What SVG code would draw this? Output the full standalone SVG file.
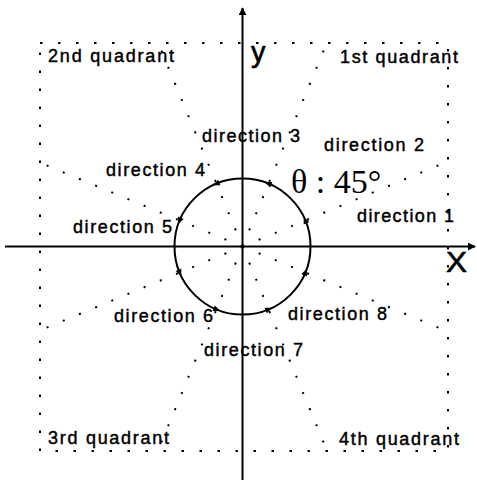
<svg xmlns="http://www.w3.org/2000/svg" width="477" height="480" viewBox="0 0 477 480">
<style>
.bg{fill:#fff}
.box{fill:none;stroke:#000;stroke-width:2;stroke-dasharray:2.5 15.5}
.ray{fill:none;stroke:#000;stroke-width:2;stroke-dasharray:2 15.5}
.axis{fill:none;stroke:#000;stroke-width:2}
.circ{fill:none;stroke:#000;stroke-width:2}
.lbl{font-family:"Liberation Sans",Arial,sans-serif;font-size:18px;fill:#000;stroke:#000;stroke-width:0.45}
.big{font-family:"Liberation Sans",Arial,sans-serif;font-size:29px;fill:#000;stroke:#000;stroke-width:0.6}
.theta{font-family:"Liberation Serif","Times New Roman",serif;font-size:34px;fill:#000}
</style>
<defs>
<path id="ah" d="M4,0 L-3,-3 L-3,3 Z" fill="#000"/>
<marker id="axhead" viewBox="0 0 10 10" refX="9" refY="5" markerWidth="4" markerHeight="4" orient="auto" markerUnits="strokeWidth">
<path d="M0,0 L10,5 L0,10 Z" fill="#000"/>
</marker>
</defs>
<rect class="bg" x="0" y="0" width="477" height="480"/>
<g id="quadrant-box">
<rect class="box" x="40" y="43" width="408" height="408"/>
</g>
<g id="connectors">
<line class="ray" x1="242.5" y1="246.5" x2="448" y2="161.4"/>
<line class="ray" x1="242.5" y1="246.5" x2="326.8" y2="43"/>
<line class="ray" x1="242.5" y1="246.5" x2="158.2" y2="43"/>
<line class="ray" x1="242.5" y1="246.5" x2="40" y2="162.6"/>
<line class="ray" x1="242.5" y1="246.5" x2="40" y2="330.4"/>
<line class="ray" x1="242.5" y1="246.5" x2="157.8" y2="451"/>
<line class="ray" x1="242.5" y1="246.5" x2="327.2" y2="451"/>
<line class="ray" x1="242.5" y1="246.5" x2="448" y2="331.6"/>
</g>
<g id="axes">
<line class="axis" x1="5" y1="246.5" x2="475" y2="246.5" marker-end="url(#axhead)"/>
<line class="axis" x1="242.5" y1="480" x2="242.5" y2="8" marker-end="url(#axhead)"/>
<text class="big" x="446" y="272" textLength="21" lengthAdjust="spacingAndGlyphs">X</text>
<text class="big" x="251" y="62">y</text>
</g>
<g id="circle">
<circle class="circ" cx="242.5" cy="246.5" r="68"/>
<use href="#ah" transform="translate(305.3,220.5) rotate(-112.5)"/>
<use href="#ah" transform="translate(268.5,183.7) rotate(-157.5)"/>
<use href="#ah" transform="translate(216.5,183.7) rotate(157.5)"/>
<use href="#ah" transform="translate(179.7,220.5) rotate(112.5)"/>
<use href="#ah" transform="translate(179.7,272.5) rotate(67.5)"/>
<use href="#ah" transform="translate(216.5,309.3) rotate(22.5)"/>
<use href="#ah" transform="translate(268.5,309.3) rotate(-22.5)"/>
<use href="#ah" transform="translate(305.3,272.5) rotate(-67.5)"/>
</g>
<g id="angle-label">
<text class="theta" x="291" y="193">θ : 45°</text>
</g>
<g id="quadrant-labels">
<text class="lbl" x="48" y="62" textLength="126" lengthAdjust="spacing">2nd quadrant</text>
<text class="lbl" x="340" y="63" textLength="118" lengthAdjust="spacing">1st quadrant</text>
<text class="lbl" x="48" y="444" textLength="121" lengthAdjust="spacing">3rd quadrant</text>
<text class="lbl" x="339" y="445" textLength="120" lengthAdjust="spacing">4th quadrant</text>
</g>
<g id="direction-1"><text class="lbl" x="357" y="222" textLength="97" lengthAdjust="spacing">direction 1</text></g>
<g id="direction-2"><text class="lbl" x="324" y="151" textLength="100" lengthAdjust="spacing">direction 2</text></g>
<g id="direction-3"><text class="lbl" x="202" y="142" textLength="98" lengthAdjust="spacing">direction 3</text></g>
<g id="direction-4"><text class="lbl" x="106" y="176" textLength="99" lengthAdjust="spacing">direction 4</text></g>
<g id="direction-5"><text class="lbl" x="73" y="233" textLength="99" lengthAdjust="spacing">direction 5</text></g>
<g id="direction-6"><text class="lbl" x="114" y="322" textLength="99" lengthAdjust="spacing">direction 6</text></g>
<g id="direction-7"><text class="lbl" x="204" y="356" textLength="99" lengthAdjust="spacing">direction 7</text></g>
<g id="direction-8"><text class="lbl" x="288" y="320" textLength="99" lengthAdjust="spacing">direction 8</text></g>
</svg>
